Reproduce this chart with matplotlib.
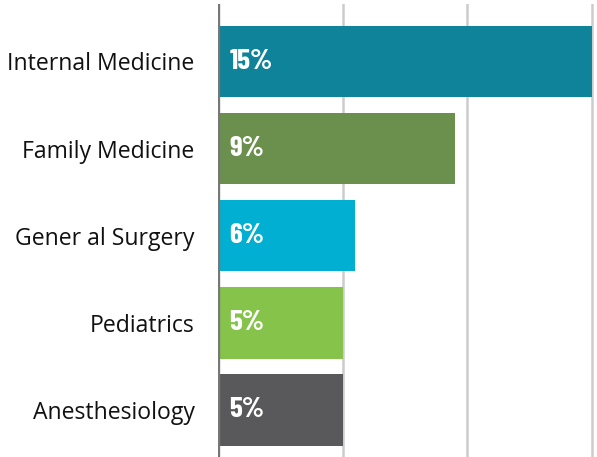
import matplotlib
matplotlib.use("Agg")
import matplotlib.pyplot as plt

categories = ["Internal Medicine", "Family Medicine", "Gener al Surgery", "Pediatrics", "Anesthesiology"]
values = [15.0, 9.5, 5.5, 5.0, 5.0]
value_labels = ["15%", "9%", "6%", "5%", "5%"]
colors = ["#0E8399", "#6B904D", "#00AFD1", "#85C34B", "#59595B"]
grid_ticks = [5, 10, 15]

fig = plt.figure(figsize=(5.97, 4.57), dpi=100)
W, H = 597, 457
ax = fig.add_axes([218 / W, 0, 1 - 218 / W, 453 / H])

ypos = list(range(len(categories)))
ax.barh(ypos, values, height=0.82, color=colors, zorder=2)

ax.set_xlim(0, 15.2)
ax.set_ylim(4.54, -0.66)

for t in grid_ticks:
    ax.axvline(t, color="#cccccc", lw=1.8, zorder=1)
ax.axvline(0, color="#777777", lw=2.4, zorder=3)

for s in ax.spines.values():
    s.set_visible(False)
ax.set_xticks([])
ax.set_yticks(ypos)
ax.set_yticklabels(categories, fontsize=16.6, family=["Open Sans", "DejaVu Sans"], color="#111111")
ax.tick_params(axis="y", length=0, pad=17)

for y, lab in zip(ypos, value_labels):
    ax.text(0.46, y, lab, ha="left", va="center", color="white", fontsize=21,
            fontweight="bold", family=["Barlow Condensed", "Roboto", "DejaVu Sans"],
            zorder=4)

fig.savefig("out.png", dpi=100)
